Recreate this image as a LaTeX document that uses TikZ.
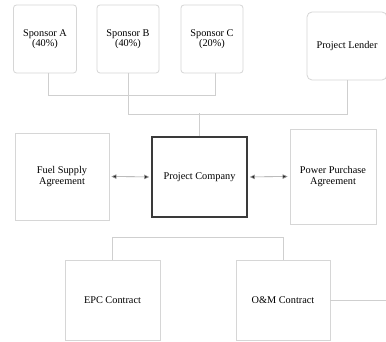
\documentclass[tikz,border=0pt]{standalone}
\usepackage{fontspec}
\setmainfont{Liberation Serif}
\usetikzlibrary{arrows.meta}
\definecolor{boxgray}{HTML}{D6D6D6}
\definecolor{linegray}{HTML}{CFCFCF}
\definecolor{pcgray}{HTML}{3A3A3A}
\tikzset{
  sponsorbox/.style={draw=boxgray, line width=0.8pt, rounded corners=3pt, inner sep=0pt, align=center, font=\fontsize{10.3}{10}\selectfont},
  plainbox/.style={draw=boxgray, line width=0.8pt, inner sep=0pt, align=center, font=\fontsize{10.3}{10.5}\selectfont},
  mainbox/.style={draw=pcgray, line width=1.6pt, inner sep=0pt, align=center, font=\fontsize{10.3}{10.5}\selectfont},
  tree/.style={draw=linegray, line width=0.8pt},
  dbl/.style={draw=gray!80, line width=0.6pt, {Triangle[length=5pt,width=4.5pt,fill=black!85]}-{Triangle[length=5pt,width=4.5pt,fill=black!85]}, shorten <=2pt, shorten >=2pt},
}
\begin{document}
\begin{tikzpicture}[x=1pt,y=-1pt]
\useasboundingbox (0,0) rectangle (386,342);
\clip (0,0) rectangle (386,342);
\fill[white] (0,0) rectangle (386,342);
\node[sponsorbox, minimum width=63pt, minimum height=68pt] (sa) at (45,39) {Sponsor A\\(40\%)};
\node[sponsorbox, minimum width=62pt, minimum height=68pt] (sb) at (128,39) {Sponsor B\\(40\%)};
\node[sponsorbox, minimum width=62pt, minimum height=68pt] (sc) at (212,39) {Sponsor C\\(20\%)};
\node[sponsorbox, rounded corners=5pt, minimum width=80pt, minimum height=68pt] (pl) at (347,46) {Project Lender};
\node[mainbox, minimum width=95pt, minimum height=80pt] (pc) at (199.5,177) {Project Company};
\node[plainbox, minimum width=94pt, minimum height=87pt] (fs) at (62,176.5) {Fuel Supply\\Agreement};
\node[plainbox, minimum width=86pt, minimum height=95pt] (ppa) at (333,176.5) {Power Purchase\\Agreement};
\node[plainbox, minimum width=95pt, minimum height=80pt] (epc) at (112.5,300) {EPC Contract};
\node[plainbox, minimum width=94pt, minimum height=80pt] (om) at (283,300) {O\&M Contract};
\coordinate (omend) at (390,300);
% sponsor tree
\path[tree] ([xshift=3pt]sa.south) -- ++(0,22) -| ([xshift=3pt]sc.south);
\path[tree] (sb.south) -- ++(0,41) -| (pl.south);
\path[tree] (pc.north) -- ++(0,-23);
% arrows
\draw[dbl] (fs.east) -- (pc.west);
\draw[dbl] (pc.east) -- (ppa.west);
% bottom tree
\path[tree] (epc.north) -- ++(0,-22) -| (om.north);
\path[tree] (om.east) -- (omend);
\end{tikzpicture}
\end{document}
